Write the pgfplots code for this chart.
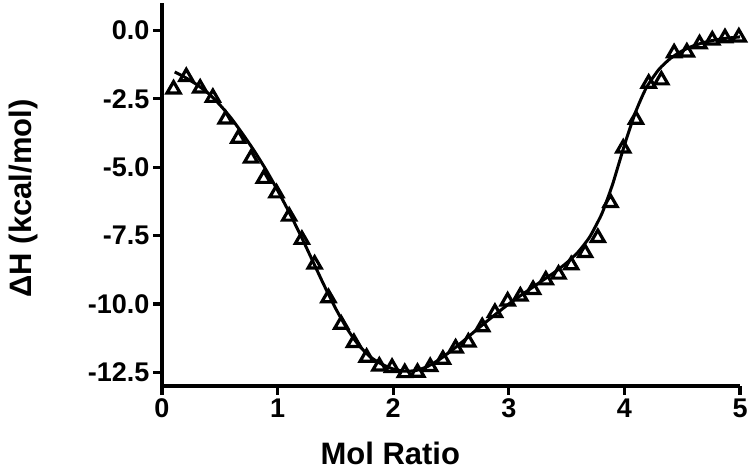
\documentclass[border=0pt]{standalone}
\usepackage{fontspec}
\setmainfont{Liberation Sans}
\usepackage{pgfplots}
\pgfplotsset{compat=1.18}
\begin{document}
\begin{tikzpicture}[x=1bp,y=1bp]
\path[use as bounding box] (0,0) rectangle (750,472);
\begin{axis}[
  at={(162bp,86bp)}, anchor=south west,
  scale only axis, width=578bp, height=383bp,
  xmin=0, xmax=5, ymin=-13, ymax=1,
  axis lines=left, axis line style={-, line width=3.2bp},
  xtick={0,1,2,3,4,5}, ytick={0,-2.5,-5,-7.5,-10,-12.5},
  tick align=outside, major tick length=9bp,
  every tick/.style={black, line width=3.2bp},
  /pgf/number format/assume math mode=true,
  ticklabel style={font=\bfseries\fontsize{27bp}{27bp}\selectfont},
  yticklabel style={/pgf/number format/.cd, fixed, fixed zerofill, precision=1},
  xticklabel style={/pgf/number format/.cd, fixed, precision=0},
  label style={font=\bfseries\fontsize{31bp}{31bp}\selectfont},
  xlabel={Mol Ratio}, ylabel={ΔH (kcal/mol)},
  xlabel style={at={(axis description cs:0.395,-0.204)}, anchor=base},
  ylabel style={at={(axis description cs:-0.2405,0.49)}, anchor=center},
  clip=false]
% fitted curve
\addplot[black, line width=3bp, smooth, tension=0.4] coordinates {
 (0.11,-1.52) (0.2,-1.72) (0.3,-1.98) (0.4,-2.3) (0.5,-2.72) (0.6,-3.22)
 (0.7,-3.8) (0.8,-4.42) (0.9,-5.1) (1.0,-5.85) (1.1,-6.65) (1.2,-7.5)
 (1.3,-8.4) (1.4,-9.3) (1.5,-10.15) (1.6,-10.9) (1.7,-11.5) (1.8,-11.93)
 (1.9,-12.2) (2.0,-12.38) (2.1,-12.46) (2.2,-12.43) (2.3,-12.28) (2.4,-12.03)
 (2.5,-11.72) (2.6,-11.38) (2.7,-11.02) (2.8,-10.67) (2.9,-10.33) (3.0,-10.0)
 (3.1,-9.7) (3.2,-9.41) (3.3,-9.12) (3.4,-8.83) (3.5,-8.5) (3.6,-8.1)
 (3.7,-7.55) (3.8,-6.75) (3.85,-6.2) (3.9,-5.6) (3.95,-4.9) (4.0,-4.2)
 (4.05,-3.55) (4.1,-2.95) (4.15,-2.45) (4.2,-2.02) (4.3,-1.42) (4.4,-1.02)
 (4.5,-0.75) (4.6,-0.56) (4.7,-0.43) (4.8,-0.34) (4.9,-0.28) (5.0,-0.24)};
% measured points
\addplot[only marks, mark=triangle, mark size=7.5bp,
  mark options={black, line width=3.2bp}] coordinates {
 (0.10,-2.15) (0.21,-1.70) (0.33,-2.12) (0.44,-2.46) (0.55,-3.25) (0.66,-3.95)
 (0.77,-4.68) (0.88,-5.42) (0.99,-5.95) (1.10,-6.80) (1.21,-7.65) (1.32,-8.55)
 (1.44,-9.78) (1.55,-10.75) (1.66,-11.42) (1.77,-11.96) (1.88,-12.28) (1.99,-12.33)
 (2.10,-12.52) (2.21,-12.51) (2.32,-12.30) (2.43,-12.03) (2.54,-11.62) (2.65,-11.40)
 (2.77,-10.84) (2.88,-10.32) (2.99,-9.90) (3.10,-9.72) (3.21,-9.48) (3.32,-9.13)
 (3.43,-8.92) (3.54,-8.58) (3.66,-8.13) (3.77,-7.58) (3.88,-6.30) (3.99,-4.31)
 (4.10,-3.26) (4.21,-1.94) (4.32,-1.82) (4.43,-0.83) (4.54,-0.80) (4.65,-0.50)
 (4.76,-0.36) (4.87,-0.28) (4.99,-0.25)};
\end{axis}
\end{tikzpicture}
\end{document}
